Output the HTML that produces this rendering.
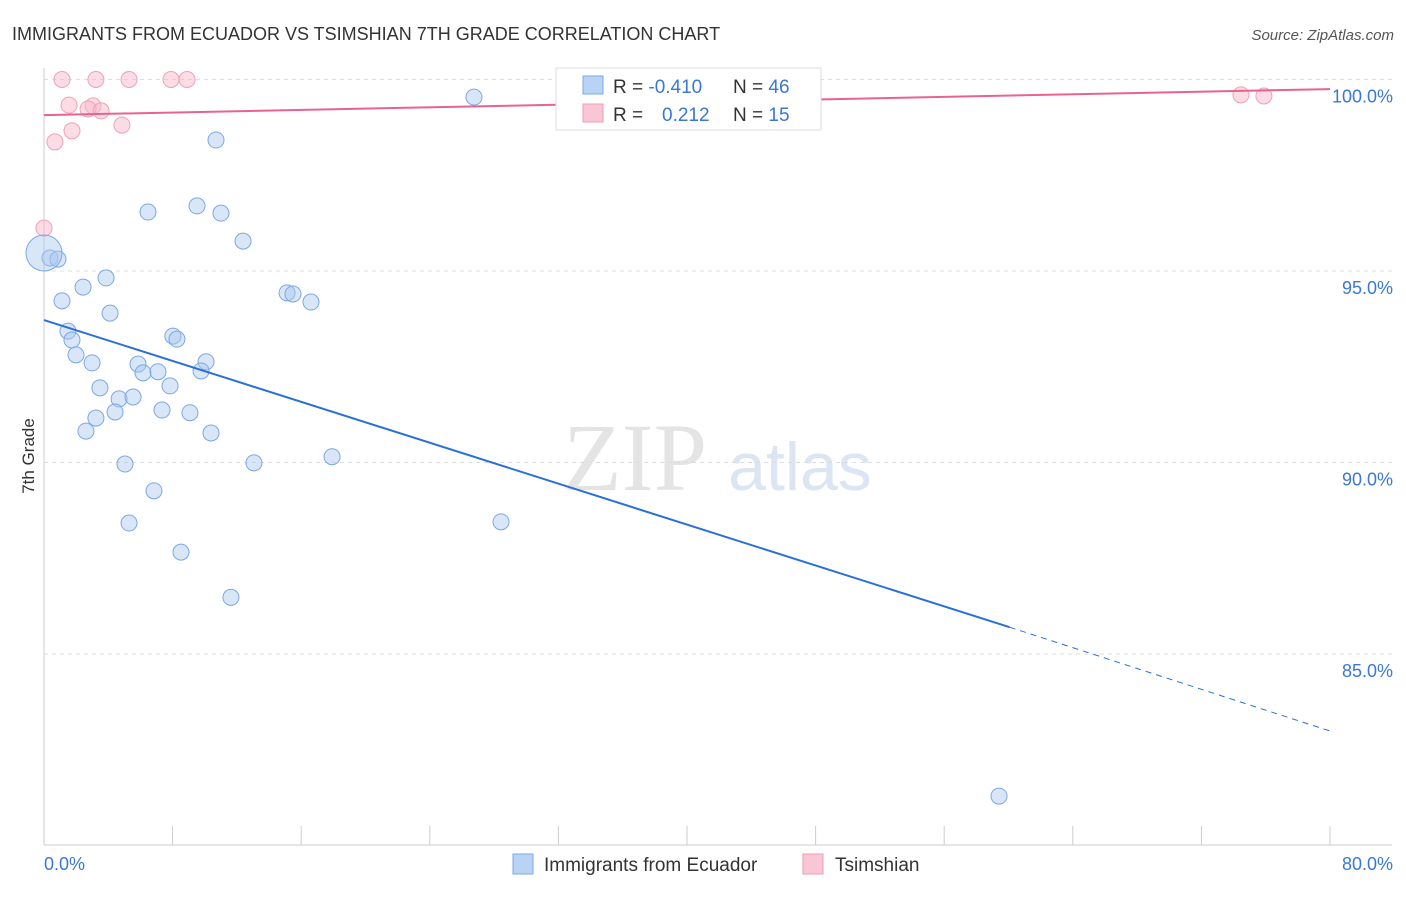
<!DOCTYPE html>
<html><head><meta charset="utf-8"><style>
body{margin:0;background:#fff;font-family:"Liberation Sans",sans-serif}
svg text{font-family:"Liberation Sans",sans-serif}
</style></head><body>
<svg id="c" width="1406" height="892" xmlns="http://www.w3.org/2000/svg">
<text x="12" y="40" font-size="18" fill="#333">IMMIGRANTS FROM ECUADOR VS TSIMSHIAN 7TH GRADE CORRELATION CHART</text>
<text x="1394" y="40" font-size="15" fill="#555" font-style="italic" text-anchor="end">Source: ZipAtlas.com</text>
<text x="635" y="490" font-size="96" fill="#e4e4e4" text-anchor="middle" font-family="Liberation Serif" style="font-family:'Liberation Serif',serif">ZIP</text>
<text x="800" y="490" font-size="68" fill="#dbe5f3" text-anchor="middle">atlas</text>
<text transform="translate(34,456) rotate(-90)" font-size="17" fill="#333" text-anchor="middle">7th Grade</text>
<g id="grid"></g><g id="marks"></g>
<g>
<rect x="556" y="68" width="265" height="62" fill="#fff" stroke="#ddd"/>
<rect x="583" y="76" width="20" height="18" fill="#b9d3f5" stroke="#7aa8e6"/>
<rect x="583" y="104" width="20" height="18" fill="#f8c6d5" stroke="#f09ab5"/>
<text x="613" y="93" font-size="19" fill="#333">R = <tspan fill="#3a78d4">-0.410</tspan><tspan x="733">N = </tspan><tspan fill="#3a78d4">46</tspan></text>
<text x="613" y="121" font-size="19" fill="#333">R = <tspan x="662" fill="#3a78d4">0.212</tspan><tspan x="733">N = </tspan><tspan fill="#3a78d4">15</tspan></text>
</g>
<g>
<rect x="513" y="854" width="20" height="20" fill="#b9d3f5" stroke="#7aa8e6"/>
<text x="544" y="871" font-size="19" fill="#333">Immigrants from Ecuador</text>
<rect x="803" y="854" width="20" height="20" fill="#f8c6d5" stroke="#f09ab5"/>
<text x="835" y="871" font-size="19" fill="#333">Tsimshian</text>
</g>
</svg>
<script>
const blueX=[26.75,10.70,6.47,9.52,11.01,12.38,0.37,0.87,3.86,2.43,1.12,15.12,15.49,16.61,4.11,1.49,1.74,8.02,8.27,1.99,2.99,5.85,10.08,6.16,7.09,9.77,3.48,7.84,4.67,5.54,4.42,7.34,9.08,3.23,2.61,10.39,5.04,13.06,17.92,6.84,5.29,28.43,8.52,11.63,59.41];
const blueY=[99.54,98.42,96.54,96.70,96.51,95.78,95.34,95.31,94.82,94.58,94.22,94.43,94.40,94.19,93.90,93.43,93.20,93.30,93.22,92.81,92.60,92.57,92.63,92.34,92.37,92.39,91.95,92.00,91.66,91.71,91.32,91.37,91.30,91.16,90.82,90.77,89.96,89.99,90.15,89.26,88.42,88.45,87.66,86.48,81.29];
const bigX=[0],bigY=[95.47];
const pinkX=[1.12,3.23,5.29,7.90,8.90,1.56,3.05,2.74,3.55,1.74,4.85,0.68,0,74.46,75.89];
const pinkY=[100,100,100,100,100,99.33,99.31,99.23,99.18,98.66,98.81,98.37,96.12,99.60,99.57];
const blueTrend=[93.72,85.70,82.99], blueTrendX=[0,60.07,80];
const pinkTrend=[99.07,99.75];
const yTicks=[100,95,90,85], yTickLabels=["100.0%","95.0%","90.0%","85.0%"];
const xs=v=>44+v/80*1286, ys=v=>79.5+(100-v)*38.3;
const NS="http://www.w3.org/2000/svg";
function mk(t,a,p){const e=document.createElementNS(NS,t);for(const k in a)e.setAttribute(k,a[k]);p.appendChild(e);return e;}
const g=document.getElementById('grid'),m=document.getElementById('marks');
yTicks.forEach((t,i)=>{const l=mk('line',{x1:44,x2:1392,y1:ys(t),y2:ys(t),stroke:'#ddd','stroke-dasharray':'4,4'},g);


const tx=mk('text',{x:1393,y:ys(t)+23,'font-size':18,fill:'#3a78d4','text-anchor':'end'},g);tx.textContent=yTickLabels[i];

});
mk('line',{x1:44,x2:44,y1:68,y2:845,stroke:'#ccc'},g);
mk('line',{x1:44,x2:1392,y1:845,y2:845,stroke:'#ccc'},g);
for(let i=0;i<=10;i++){const t=mk('line',{x1:xs(i*8),x2:xs(i*8),y1:826,y2:845,stroke:'#ccc'},g);

}
const x0=mk('text',{x:44,y:870,'font-size':18,fill:'#3a78d4'},g);x0.textContent='0.0%';


const x1=mk('text',{x:1393,y:870,'font-size':18,fill:'#3a78d4','text-anchor':'end'},g);x1.textContent='80.0%';


pinkX.forEach((v,i)=>{const c=mk('circle',{cx:xs(v),cy:ys(pinkY[i]),r:8,fill:'rgba(248,180,200,0.45)',stroke:'#f0a0b8','stroke-width':1},m);

});
blueX.forEach((v,i)=>{const c=mk('circle',{cx:xs(v),cy:ys(blueY[i]),r:8,fill:'rgba(170,200,240,0.45)',stroke:'#7aa8e6','stroke-width':1},m);

});
bigX.forEach((v,i)=>{const c=mk('circle',{cx:xs(v),cy:ys(bigY[i]),r:18,fill:'rgba(170,200,240,0.45)',stroke:'#7aa8e6'},m);

});
const bl=mk('line',{x1:xs(blueTrendX[0]),y1:ys(blueTrend[0]),x2:xs(blueTrendX[1]),y2:ys(blueTrend[1]),stroke:'#2a70d6','stroke-width':2},m);


const bd=mk('line',{x1:xs(blueTrendX[1]),y1:ys(blueTrend[1]),x2:xs(blueTrendX[2]),y2:ys(blueTrend[2]),stroke:'#2a70d6','stroke-width':1,'stroke-dasharray':'6,5'},m);


const pl=mk('line',{x1:xs(0),y1:ys(pinkTrend[0]),x2:xs(80),y2:ys(pinkTrend[1]),stroke:'#e8648e','stroke-width':2},m);


</script>
</body></html>
